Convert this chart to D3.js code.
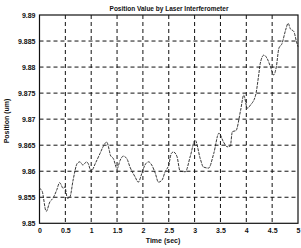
<!DOCTYPE html>
<html><head><meta charset="utf-8">
<script src="https://cdn.jsdelivr.net/npm/d3@7"></script>
<style>body{margin:0;background:#fff}svg{display:block}text{font-family:"Liberation Sans",Arial,sans-serif;fill:#111}</style>
</head><body><div id="chart"></div>
<script>
const title = "Position Value by Laser Interferometer";
const xLabel = "Time (sec)";
const yLabel = "Position (um)";
const xTicks = [0,0.5,1,1.5,2,2.5,3,3.5,4,4.5,5];
const xTickLabels = ["0","0.5","1","1.5","2","2.5","3","3.5","4","4.5","5"];
const yTicks = [9.85,9.855,9.86,9.865,9.87,9.875,9.88,9.885,9.89];
const yTickLabels = ["9.85","9.855","9.86","9.865","9.87","9.875","9.88","9.885","9.89"];
const time = [0.00,0.05,0.13,0.20,0.26,0.33,0.39,0.46,0.49,0.54,0.59,0.65,0.73,0.78,0.84,0.91,0.94,1.00,1.08,1.17,1.23,1.30,1.35,1.37,1.43,1.50,1.56,1.62,1.69,1.75,1.85,1.91,1.98,2.04,2.11,2.17,2.24,2.30,2.37,2.43,2.50,2.55,2.59,2.66,2.72,2.82,2.92,3.01,3.11,3.17,3.27,3.37,3.47,3.56,3.63,3.69,3.73,3.80,3.89,3.95,4.02,4.08,4.18,4.24,4.27,4.34,4.40,4.47,4.53,4.58,4.63,4.69,4.76,4.81,4.85,4.92,4.97,5.00];
const position = [9.8567,9.8562,9.8523,9.8541,9.8548,9.8563,9.8578,9.8567,9.8570,9.8548,9.8551,9.8583,9.8615,9.8618,9.8612,9.8618,9.8615,9.8600,9.8615,9.8634,9.8647,9.8656,9.8640,9.8631,9.8624,9.8605,9.8621,9.8629,9.8624,9.8608,9.8589,9.8579,9.8596,9.8612,9.8618,9.8612,9.8596,9.8579,9.8583,9.8599,9.8612,9.8634,9.8637,9.8628,9.8600,9.8599,9.8630,9.8660,9.8624,9.8608,9.8606,9.8634,9.8673,9.8656,9.8647,9.8648,9.8676,9.8678,9.8717,9.8746,9.8721,9.8727,9.8746,9.8785,9.8807,9.8823,9.8817,9.8800,9.8785,9.8800,9.8836,9.8845,9.8871,9.8884,9.8874,9.8868,9.8849,9.8839];

const W = 301, H = 248;
const L = 39.5, R = 298, T = 15, B = 223.3;
const svg = d3.select("#chart").append("svg").attr("width", W).attr("height", H);
const x = d3.scaleLinear().domain([0,5]).range([L,R]);
const y = d3.scaleLinear().domain([9.85,9.89]).range([B,T]);

// grid
const g = svg.append("g");
g.selectAll(".gx").data(xTicks.slice(1,-1)).join("line")
  .attr("x1", d=>x(d)).attr("x2", d=>x(d)).attr("y1", T).attr("y2", B)
  .attr("stroke","#111").attr("stroke-width",1).attr("stroke-dasharray","4,3");
g.selectAll(".gy").data(yTicks.slice(1,-1)).join("line")
  .attr("y1", d=>y(d)).attr("y2", d=>y(d)).attr("x1", L).attr("x2", R)
  .attr("stroke","#111").attr("stroke-width",1).attr("stroke-dasharray","4,3");

// axes
const xAxis = d3.axisBottom(x).tickValues(xTicks).tickFormat((d,i)=>xTickLabels[i]).tickSize(0).tickPadding(5);
const yAxis = d3.axisLeft(y).tickValues(yTicks).tickFormat((d,i)=>yTickLabels[i]).tickSize(0).tickPadding(4);
const gx = svg.append("g").attr("transform",`translate(0,${B})`).call(xAxis);
const gy = svg.append("g").attr("transform",`translate(${L},0)`).call(yAxis);
[gx,gy].forEach(a=>{a.select(".domain").remove();a.selectAll("text").attr("font-size",7).attr("font-weight","bold").style("font-family","Liberation Sans, Arial, sans-serif").attr("fill","#111");});

// frame
svg.append("rect").attr("x",L).attr("y",T).attr("width",R-L).attr("height",B-T)
  .attr("fill","none").attr("stroke","#111").attr("stroke-width",1.2);

// line
const line = d3.line().x((d,i)=>x(time[i])).y(d=>y(d)).curve(d3.curveMonotoneX);
svg.append("path").datum(position).attr("d",line).attr("fill","none")
  .attr("stroke","#222").attr("stroke-width",0.9).attr("stroke-dasharray","3,1");

// labels
svg.append("text").attr("x",169).attr("y",11).attr("text-anchor","middle").attr("font-size",6.5).attr("font-weight","bold").text(title);
svg.append("text").attr("x",163).attr("y",243).attr("text-anchor","middle").attr("font-size",7).attr("font-weight","bold").text(xLabel);
svg.append("text").attr("transform","translate(9,121) rotate(-90)").attr("text-anchor","middle").attr("font-size",7).attr("font-weight","bold").text(yLabel);
</script></body></html>
